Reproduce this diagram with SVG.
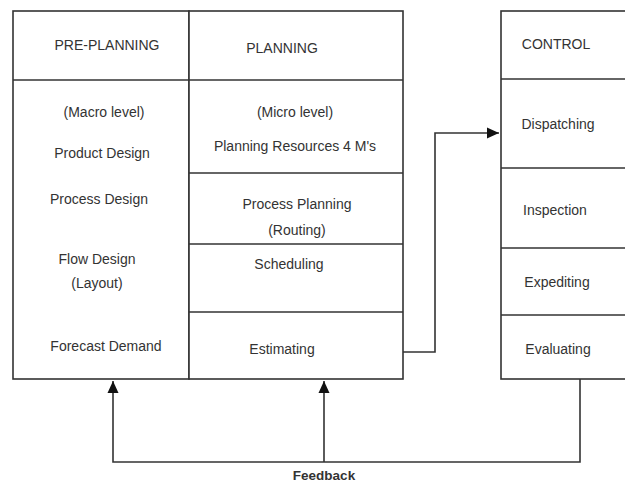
<svg xmlns="http://www.w3.org/2000/svg" width="625" height="482" viewBox="0 0 625 482">
<style>
.box{fill:#fff;stroke:#333;stroke-width:1.6}
.ln{stroke:#333;stroke-width:1.6;fill:none}
.t{font-family:"Liberation Sans",Arial,sans-serif;font-size:14px;fill:#333;text-anchor:middle}
.b{font-family:"Liberation Sans",Arial,sans-serif;font-size:13.5px;font-weight:bold;fill:#333;text-anchor:middle}
</style>
<defs>
<marker id="ah" viewBox="0 0 12 12" refX="12" refY="6" markerWidth="12" markerHeight="12" markerUnits="userSpaceOnUse" orient="auto">
<path d="M0,0.5 L12,6 L0,11.5 z" fill="#111"/>
</marker>
</defs>
<rect width="625" height="482" fill="#fff"/>
<g id="preplanning">
<rect class="box" x="13" y="11" width="176" height="368"/>
<line class="ln" x1="13" y1="80" x2="189" y2="80"/>
<text class="t" x="107" y="50">PRE-PLANNING</text>
<text class="t" x="104" y="117">(Macro level)</text>
<text class="t" x="102" y="158">Product Design</text>
<text class="t" x="99" y="204">Process Design</text>
<text class="t" x="97" y="264">Flow Design</text>
<text class="t" x="97" y="288">(Layout)</text>
<text class="t" x="106" y="351">Forecast Demand</text>
</g>
<g id="planning">
<rect class="box" x="189" y="11" width="214" height="368"/>
<line class="ln" x1="189" y1="80" x2="403" y2="80"/>
<line class="ln" x1="189" y1="173" x2="403" y2="173"/>
<line class="ln" x1="189" y1="244" x2="403" y2="244"/>
<line class="ln" x1="189" y1="312" x2="403" y2="312"/>
<text class="t" x="282" y="53">PLANNING</text>
<text class="t" x="295" y="117">(Micro level)</text>
<text class="t" x="295" y="151">Planning Resources 4 M's</text>
<text class="t" x="297" y="209">Process Planning</text>
<text class="t" x="297" y="235">(Routing)</text>
<text class="t" x="289" y="269">Scheduling</text>
<text class="t" x="282" y="354">Estimating</text>
</g>
<g id="control">
<rect class="box" x="501" y="11" width="140" height="368"/>
<line class="ln" x1="501" y1="79" x2="625" y2="79"/>
<line class="ln" x1="501" y1="168" x2="625" y2="168"/>
<line class="ln" x1="501" y1="248" x2="625" y2="248"/>
<line class="ln" x1="501" y1="315" x2="625" y2="315"/>
<text class="t" x="556" y="49">CONTROL</text>
<text class="t" x="558" y="129">Dispatching</text>
<text class="t" x="555" y="215">Inspection</text>
<text class="t" x="557" y="287">Expediting</text>
<text class="t" x="558" y="354">Evaluating</text>
</g>
<g id="connectors">
<polyline class="ln" points="403,352 435,352 435,133 499,133" marker-end="url(#ah)"/>
<polyline class="ln" points="580,379 580,462 113,462 113,381" marker-end="url(#ah)"/>
<line class="ln" x1="324" y1="462" x2="324" y2="381" marker-end="url(#ah)"/>
<text class="b" x="324" y="480">Feedback</text>
</g>
</svg>
